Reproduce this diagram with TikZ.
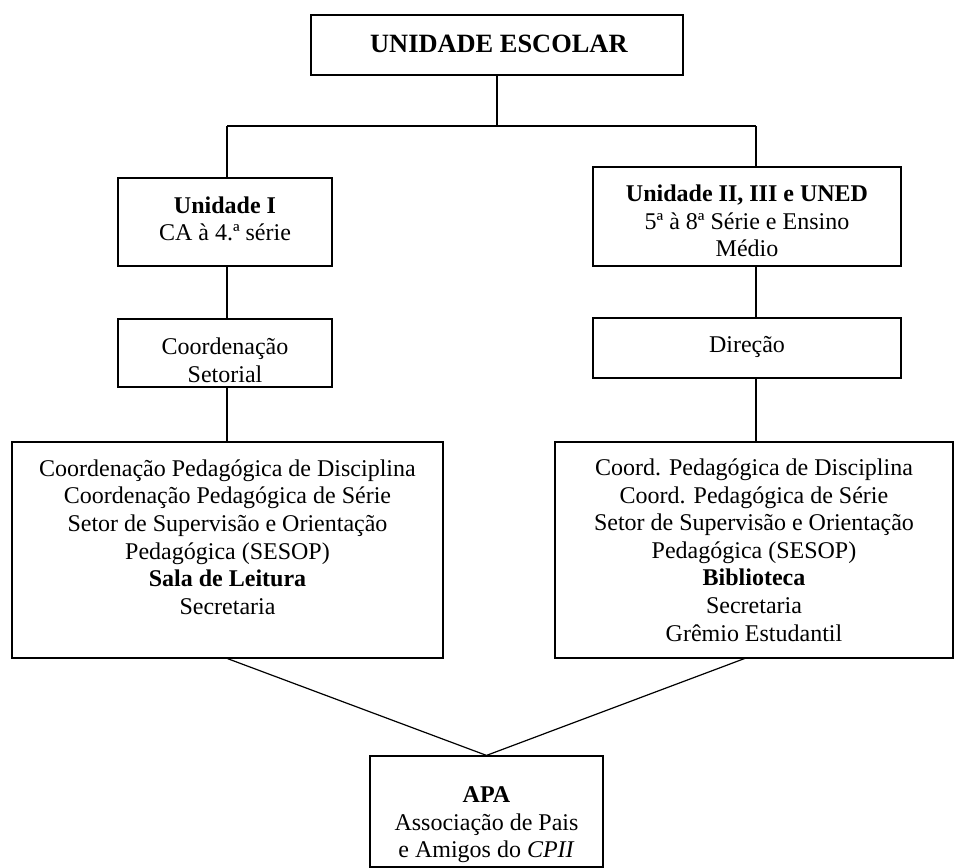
\documentclass[tikz,border=0pt]{standalone}
\usepackage{fontspec}
\setmainfont{Liberation Serif}
\begin{document}
\begin{tikzpicture}[x=0.5pt,y=-0.5pt,
  box/.style={draw, line width=0.6pt, rectangle, inner sep=0pt},
  txt/.style={align=center, inner sep=0pt, font=\fontsize{12}{13.8}\selectfont},
  conn/.style={line width=0.6pt}]
\useasboundingbox (0,0) rectangle (954,868);
% boxes
\node[box, minimum width=186pt, minimum height=30pt] (top) at (497,45) {};
\node[box, minimum width=107pt, minimum height=44pt] (u1) at (225,222) {};
\node[box, minimum width=154pt, minimum height=49.5pt] (u2) at (747,216.5) {};
\node[box, minimum width=107pt, minimum height=34pt] (cs) at (225,353) {};
\node[box, minimum width=154pt, minimum height=30pt] (dir) at (747,348) {};
\node[box, minimum width=215.5pt, minimum height=108pt] (bl) at (227.5,550) {};
\node[box, minimum width=199pt, minimum height=108pt] (br) at (754,550) {};
\node[box, minimum width=116.5pt, minimum height=55.5pt] (apa) at (486.5,811.5) {};
% texts
\node[txt, font=\fontsize{13.2}{15}\selectfont] (ttop) at (499,44) {\textbf{UNIDADE ESCOLAR}};
\node[txt] (tu1) at (225,219) {\textbf{Unidade I}\\CA à 4.ª série};
\node[txt] (tu2) at (747,221) {\textbf{Unidade II, III e UNED}\\5ª à 8ª Série e Ensino\\Médio};
\node[txt] (tcs) at (225,360) {Coordenação\\Setorial};
\node[txt] (tdir) at (747,347) {Direção};
\node[txt] (tbl) at (227.5,537) {Coordenação Pedagógica de Disciplina\\Coordenação Pedagógica de Série\\Setor de Supervisão e Orientação\\Pedagógica (SESOP)\\\textbf{Sala de Leitura}\\Secretaria};
\node[txt] (tbr) at (754,550) {Coord. Pedagógica de Disciplina\\Coord. Pedagógica de Série\\Setor de Supervisão e Orientação\\Pedagógica (SESOP)\\\textbf{Biblioteca}\\Secretaria\\Grêmio Estudantil};
\node[txt] (tapa) at (486.5,825) {\textbf{APA}\\Associação de Pais\\e Amigos do \textit{CPII}};
% connector points
\coordinate (hm) at (497,126);
\coordinate (hl) at (227,126);
\coordinate (hr) at (756,126);
\coordinate (brb) at (746,658);
% connectors
\draw[conn] (top.south) -- (hm);
\draw[conn] (hl) -- (hr);
\draw[conn] (hl) -- (hl |- u1.north);
\draw[conn] (hr) -- (hr |- u2.north);
\draw[conn] (hl |- u1.south) -- (hl |- cs.north);
\draw[conn] (hl |- cs.south) -- (hl |- bl.north);
\draw[conn] (hr |- u2.south) -- (hr |- dir.north);
\draw[conn] (hr |- dir.south) -- (hr |- br.north);
\draw[conn] (bl.south) -- (apa.north);
\draw[conn] (brb) -- (apa.north);
\end{tikzpicture}
\end{document}
